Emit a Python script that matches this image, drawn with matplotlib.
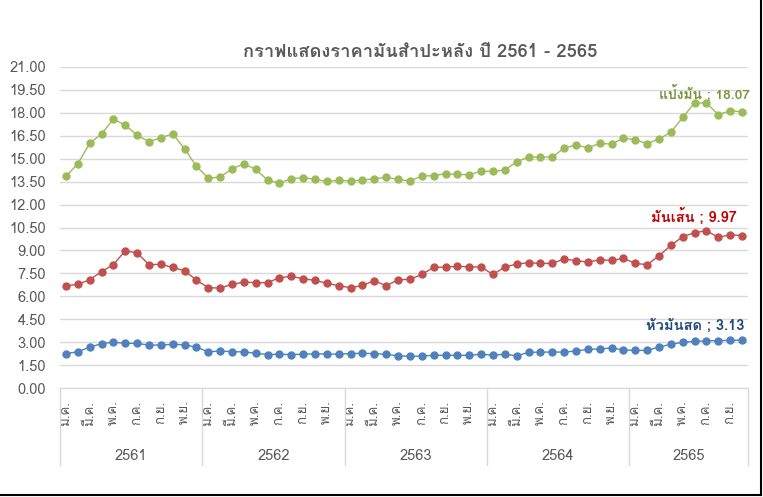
import numpy as np
import matplotlib
matplotlib.use('Agg')
import matplotlib.pyplot as plt
from matplotlib import font_manager
from matplotlib.ft2font import FT2Font
from matplotlib.lines import Line2D

# data (baht / kg), ม.ค. 2561 - ต.ค. 2565
years = ['2561', '2562', '2563', '2564', '2565']
months_per_year = [12, 12, 12, 12, 10]
months = ['ม.ค.', 'ก.พ.', 'มี.ค.', 'เม.ย.', 'พ.ค.', 'มิ.ย.',
          'ก.ค.', 'ส.ค.', 'ก.ย.', 'ต.ค.', 'พ.ย.', 'ธ.ค.']

starch = [13.85, 14.67, 16.00, 16.63, 17.59, 17.20, 16.53, 16.11, 16.37, 16.63, 15.65, 14.50,
          13.73, 13.80, 14.34, 14.67, 14.30, 13.60, 13.41, 13.70, 13.76, 13.65, 13.52, 13.58,
          13.54, 13.60, 13.69, 13.78, 13.65, 13.54, 13.87, 13.89, 14.02, 13.97, 13.95, 14.19,
          14.17, 14.26, 14.80, 15.11, 15.11, 15.11, 15.70, 15.89, 15.72, 16.00, 15.96, 16.35,
          16.24, 15.98, 16.29, 16.74, 17.70, 18.66, 18.64, 17.88, 18.14, 18.07]
chips = [6.69, 6.78, 7.08, 7.61, 8.07, 8.98, 8.83, 8.07, 8.09, 7.89, 7.67, 7.06,
         6.56, 6.54, 6.78, 6.93, 6.89, 6.89, 7.22, 7.30, 7.15, 7.04, 6.85, 6.69,
         6.56, 6.71, 7.02, 6.69, 7.08, 7.11, 7.43, 7.89, 7.91, 7.96, 7.93, 7.91,
         7.43, 7.91, 8.11, 8.20, 8.15, 8.15, 8.44, 8.33, 8.24, 8.39, 8.35, 8.48,
         8.15, 8.07, 8.65, 9.33, 9.90, 10.16, 10.29, 9.85, 10.03, 9.97]
fresh_root = [2.25, 2.37, 2.67, 2.90, 3.00, 2.92, 2.92, 2.80, 2.82, 2.85, 2.83, 2.67,
              2.37, 2.42, 2.38, 2.36, 2.27, 2.19, 2.20, 2.19, 2.21, 2.24, 2.22, 2.22,
              2.25, 2.27, 2.25, 2.20, 2.11, 2.07, 2.09, 2.14, 2.14, 2.14, 2.14, 2.20,
              2.16, 2.20, 2.11, 2.33, 2.35, 2.35, 2.35, 2.42, 2.53, 2.55, 2.62, 2.49,
              2.46, 2.46, 2.68, 2.86, 2.99, 3.05, 3.09, 3.10, 3.12, 3.13]
series_names = ['แป้งมัน', 'มันเส้น', 'หัวมันสด']


# find something that can draw Thai
def find_thai_font():
    for f in font_manager.fontManager.ttflist:
        try:
            if 0x0E01 in FT2Font(f.fname).get_charmap():
                return f.name
        except Exception:
            pass
    return None

thai = find_thai_font()
plt.rcParams['font.family'] = ([thai] if thai else []) + ['DejaVu Sans']

grey = '#595959'
grid_c = '#d9d9d9'

fig = plt.figure(figsize=(7.63, 4.97), dpi=100)
ax = fig.add_axes([60 / 763, 1 - 388 / 497, 688 / 763, 321 / 497])

x = np.arange(len(starch))
ax.plot(x, starch, color='#9BBB59', lw=1, marker='o', ms=5, zorder=3)
ax.plot(x, chips, color='#C0504D', lw=1, marker='o', ms=5, zorder=3)
ax.plot(x, fresh_root, color='#4F81BD', lw=1, marker='o', ms=5, zorder=3)

ax.set_xlim(-0.5, len(x) - 0.5)
ax.set_ylim(0, 21)
ax.set_yticks(np.arange(0, 21.01, 1.5))
ax.set_yticklabels(['%.2f' % v for v in np.arange(0, 21.01, 1.5)])
ax.yaxis.grid(True, color=grid_c, lw=1)
ax.set_axisbelow(True)
for s in ['top', 'right', 'left']:
    ax.spines[s].set_visible(False)
ax.spines['bottom'].set_color(grid_c)
ax.tick_params(axis='y', length=0, pad=10, labelsize=10.5, labelcolor=grey)

# month labels (every second month), then year groups
month_labels = []
for n in months_per_year:
    month_labels += months[:n]
ax.set_xticks(x[::2])
ax.set_xticklabels(month_labels[::2], rotation=90, va='top', ha='center')
ax.tick_params(axis='x', length=0, pad=9, labelsize=9.5, labelcolor=grey)

edges = np.concatenate([[0], np.cumsum(months_per_year)]) - 0.5
trans = ax.get_xaxis_transform()
for e in edges:
    ax.add_line(Line2D([e, e], [0, -0.24], transform=trans, color=grid_c, lw=1, clip_on=False))
for i, yr in enumerate(years):
    ax.text((edges[i] + edges[i + 1]) / 2, -0.212, yr, transform=trans,
            ha='center', va='center', fontsize=10.5, color=grey)

fig.text(420 / 763, 1 - 52 / 497, 'กราฟแสดงราคามันสำปะหลัง ปี 2561 - 2565',
         ha='center', va='center', fontsize=13.2, fontweight='bold', color=grey)

# end-of-line labels
last = len(x) - 1
ax.annotate('%s ; %.2f' % (series_names[0], starch[-1]), (last, starch[-1]),
            xytext=(8, 18), textcoords='offset pixels', ha='right', va='center',
            fontsize=10, fontweight='bold', color='#77933C')
ax.annotate('%s ; %.2f' % (series_names[1], chips[-1]), (last, chips[-1]),
            xytext=(-5, 19), textcoords='offset pixels', ha='right', va='center',
            fontsize=10.5, fontweight='bold', color='#C00000')
ax.annotate('%s ; %.2f' % (series_names[2], fresh_root[-1]), (last, fresh_root[-1]),
            xytext=(2, 15), textcoords='offset pixels', ha='right', va='center',
            fontsize=10.5, fontweight='bold', color='#1F497D')

# frame edge seen on the right and bottom of the screenshot
fig.add_artist(Line2D([761 / 763, 761 / 763], [2 / 497, 1], color='black', lw=1.5))
fig.add_artist(Line2D([0, 761 / 763], [2 / 497, 2 / 497], color='black', lw=1.5))

fig.savefig('out.png', dpi=100)
